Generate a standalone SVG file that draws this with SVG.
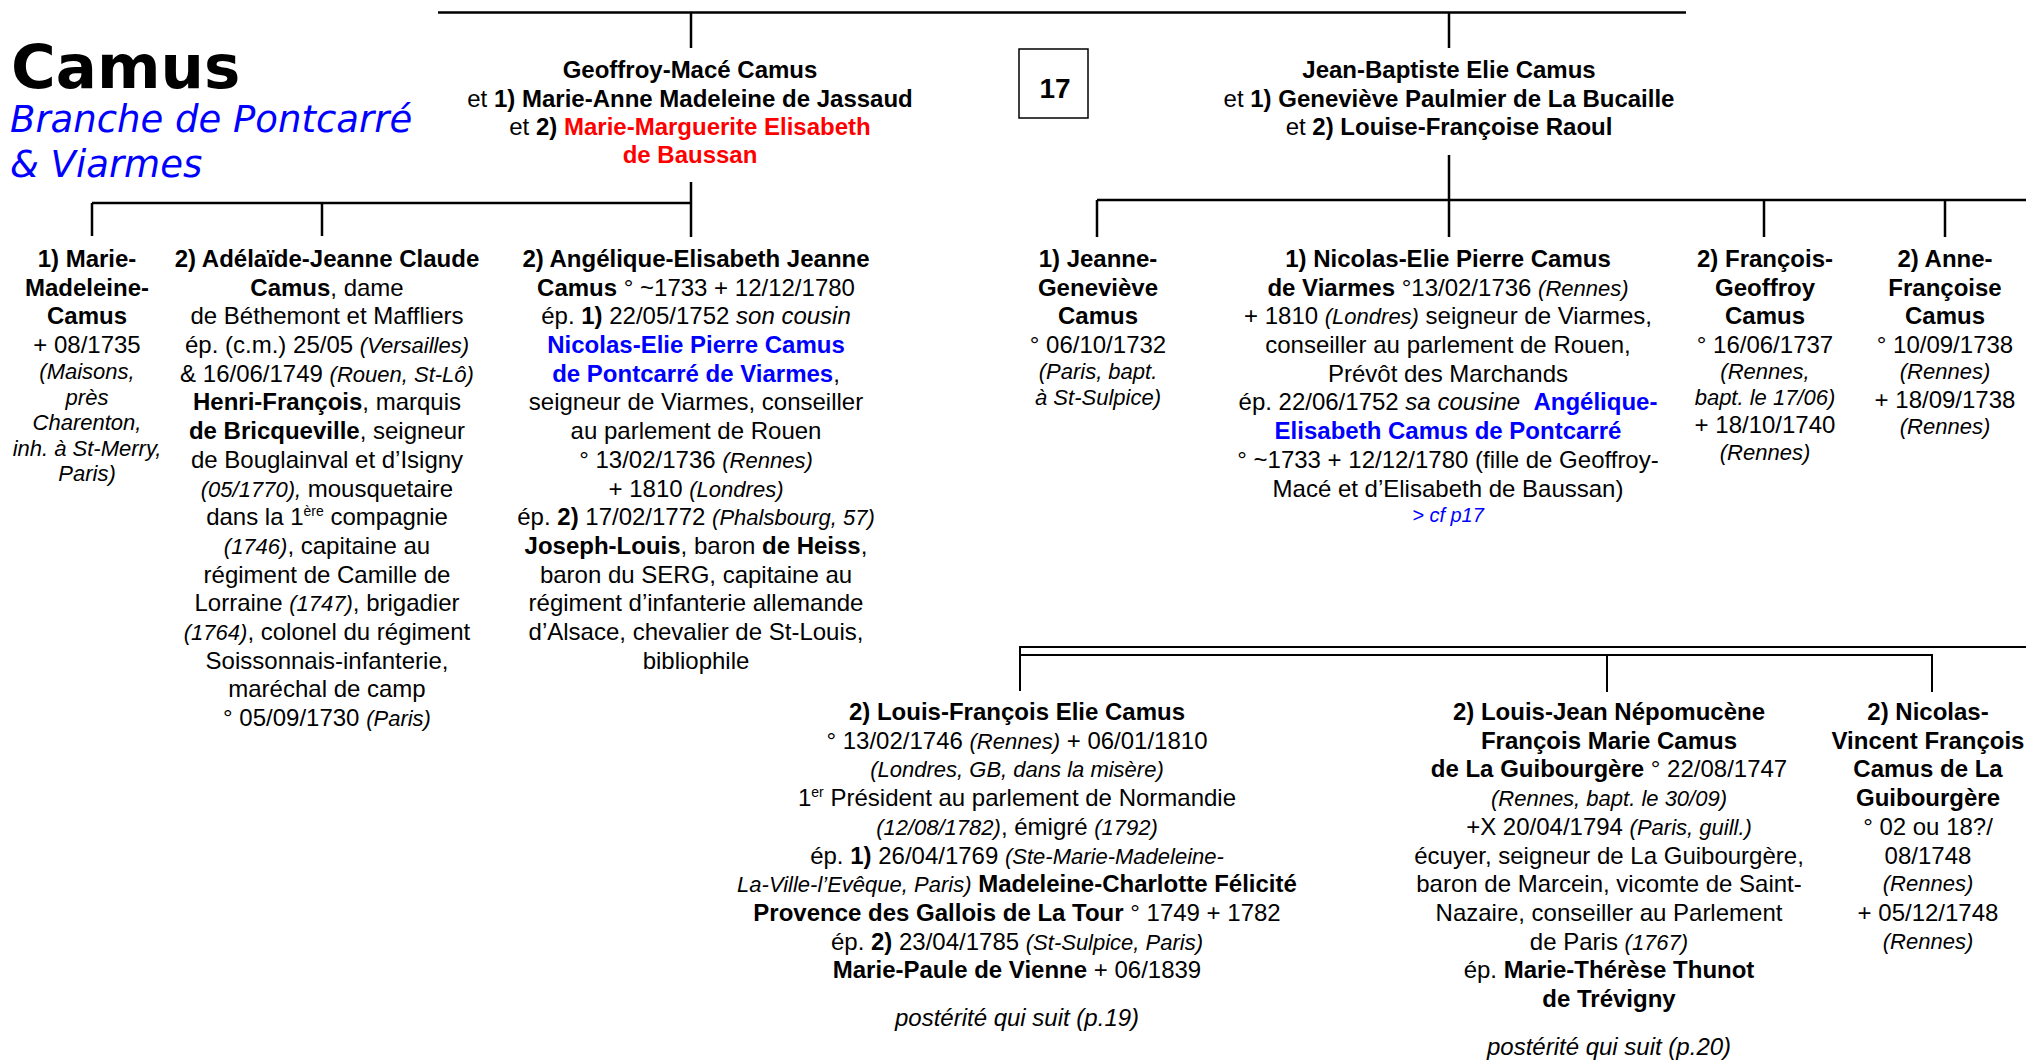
<svg xmlns="http://www.w3.org/2000/svg" width="2026" height="1060" viewBox="0 0 2026 1060">
<style>
text { font-family: "Liberation Sans", Arial, sans-serif; font-size: 24px; fill: #000; text-anchor: middle; }
.b { font-weight: bold; }
.i { font-style: italic; font-size: 22px; }
.it { font-style: italic; }
.bl { fill: #0000FF; }
.rd { fill: #FF0000; }
.sup { font-size: 14px; }
.cf { font-size: 20px; }
.num { font-size: 28px; font-weight: bold; }
.ln { stroke: #000; stroke-width: 2.5; fill: none; }
.ln2 { stroke: #000; stroke-width: 2; fill: none; }
.ttl { font-family: "DejaVu Sans", Verdana, sans-serif; text-anchor: start; font-size: 61px; font-weight: bold; }
.sub { font-family: "DejaVu Sans", Verdana, sans-serif; text-anchor: start; font-size: 37px; font-style: italic; fill: #0000FF; }
</style>
<rect width="2026" height="1060" fill="#fff"/>

<g id="title">
<text class="ttl" x="11" y="88">Camus</text>
<text class="sub" x="10" y="132">Branche de Pontcarré</text>
<text class="sub" x="10" y="177">&amp; Viarmes</text>
</g>

<g id="connectors">
<path class="ln" d="M438,12.5 H1686 M691,12.5 V48 M1449,12.5 V48"/>
<path class="ln" d="M691,182 V237 M92,203 H691 M92,203 V236 M322,203 V236"/>
<path class="ln" d="M1449,155 V237 M1097,200 H2026 M1097,200 V237 M1764,200 V237 M1945,200 V237"/>
<path class="ln2" d="M1020,691 V647 H2026 M1020,655 H1932 V692 M1607,655 V692"/>
</g>

<g id="page-box">
<rect x="1019" y="49" width="69" height="69" fill="none" stroke="#000" stroke-width="1.5"/>
<text x="1055" y="98" class="num">17</text>
</g>

<g id="n-geoffroy">
<text x="690" y="78"><tspan class="b">Geoffroy-Macé Camus</tspan></text>
<text x="690" y="107">et <tspan class="b">1) Marie-Anne Madeleine de Jassaud</tspan></text>
<text x="690" y="135">et <tspan class="b">2) </tspan><tspan class="b rd">Marie-Marguerite Elisabeth</tspan></text>
<text x="690" y="163"><tspan class="b rd">de Baussan</tspan></text>
</g>

<g id="n-jeanbaptiste">
<text x="1449" y="78"><tspan class="b">Jean-Baptiste Elie Camus</tspan></text>
<text x="1449" y="107">et <tspan class="b">1) Geneviève Paulmier de La Bucaille</tspan></text>
<text x="1449" y="135">et <tspan class="b">2) Louise-Françoise Raoul</tspan></text>
</g>

<g id="n-marie-madeleine">
<text x="87" y="267" class="b">1) Marie-</text>
<text x="87" y="296" class="b">Madeleine-</text>
<text x="87" y="324" class="b">Camus</text>
<text x="87" y="353">+ 08/1735</text>
<text x="87" y="379" class="i">(Maisons,</text>
<text x="87" y="404.5" class="i">près</text>
<text x="87" y="430" class="i">Charenton,</text>
<text x="87" y="455.5" class="i">inh. à St-Merry,</text>
<text x="87" y="481" class="i">Paris)</text>
</g>

<g id="n-adelaide">
<text x="327" y="267" class="b">2) Adélaïde-Jeanne Claude</text>
<text x="327" y="296"><tspan class="b">Camus</tspan>, dame</text>
<text x="327" y="324">de Béthemont et Maffliers</text>
<text x="327" y="353">ép. (c.m.) 25/05 <tspan class="i">(Versailles)</tspan></text>
<text x="327" y="382">&amp; 16/06/1749 <tspan class="i">(Rouen, St-Lô)</tspan></text>
<text x="327" y="410"><tspan class="b">Henri-François</tspan>, marquis</text>
<text x="327" y="439"><tspan class="b">de Bricqueville</tspan>, seigneur</text>
<text x="327" y="468">de Bouglainval et d’Isigny</text>
<text x="327" y="497"><tspan class="i">(05/1770),</tspan> mousquetaire</text>
<text x="327" y="525">dans la 1<tspan class="sup" dy="-9">ère</tspan><tspan dy="9"> compagnie</tspan></text>
<text x="327" y="554"><tspan class="i">(1746)</tspan>, capitaine au</text>
<text x="327" y="583">régiment de Camille de</text>
<text x="327" y="611">Lorraine <tspan class="i">(1747)</tspan>, brigadier</text>
<text x="327" y="640"><tspan class="i">(1764)</tspan>, colonel du régiment</text>
<text x="327" y="669">Soissonnais-infanterie,</text>
<text x="327" y="697">maréchal de camp</text>
<text x="327" y="726">° 05/09/1730 <tspan class="i">(Paris)</tspan></text>
</g>

<g id="n-angelique">
<text x="696" y="267" class="b">2) Angélique-Elisabeth Jeanne</text>
<text x="696" y="296"><tspan class="b">Camus</tspan> ° ~1733 + 12/12/1780</text>
<text x="696" y="324">ép. <tspan class="b">1)</tspan> 22/05/1752 <tspan class="it">son cousin</tspan></text>
<text x="696" y="353" class="b bl">Nicolas-Elie Pierre Camus</text>
<text x="696" y="382"><tspan class="b bl">de Pontcarré de Viarmes</tspan>,</text>
<text x="696" y="410">seigneur de Viarmes, conseiller</text>
<text x="696" y="439">au parlement de Rouen</text>
<text x="696" y="468">° 13/02/1736 <tspan class="i">(Rennes)</tspan></text>
<text x="696" y="497">+ 1810 <tspan class="i">(Londres)</tspan></text>
<text x="696" y="525">ép. <tspan class="b">2)</tspan> 17/02/1772 <tspan class="i">(Phalsbourg, 57)</tspan></text>
<text x="696" y="554"><tspan class="b">Joseph-Louis</tspan>, baron <tspan class="b">de Heiss</tspan>,</text>
<text x="696" y="583">baron du SERG, capitaine au</text>
<text x="696" y="611">régiment d’infanterie allemande</text>
<text x="696" y="640">d’Alsace, chevalier de St-Louis,</text>
<text x="696" y="669">bibliophile</text>
</g>

<g id="n-jeanne-genevieve">
<text x="1098" y="267" class="b">1) Jeanne-</text>
<text x="1098" y="296" class="b">Geneviève</text>
<text x="1098" y="324" class="b">Camus</text>
<text x="1098" y="353">° 06/10/1732</text>
<text x="1098" y="379" class="i">(Paris, bapt.</text>
<text x="1098" y="404.5" class="i">à St-Sulpice)</text>
</g>

<g id="n-nicolas-elie">
<text x="1448" y="267" class="b">1) Nicolas-Elie Pierre Camus</text>
<text x="1448" y="296"><tspan class="b">de Viarmes</tspan> °13/02/1736 <tspan class="i">(Rennes)</tspan></text>
<text x="1448" y="324">+ 1810 <tspan class="i">(Londres)</tspan> seigneur de Viarmes,</text>
<text x="1448" y="353">conseiller au parlement de Rouen,</text>
<text x="1448" y="382">Prévôt des Marchands</text>
<text x="1448" y="410">ép. 22/06/1752 <tspan class="it">sa cousine</tspan>&#160; <tspan class="b bl">Angélique-</tspan></text>
<text x="1448" y="439" class="b bl">Elisabeth Camus de Pontcarré</text>
<text x="1448" y="468">° ~1733 + 12/12/1780 (fille de Geoffroy-</text>
<text x="1448" y="497">Macé et d’Elisabeth de Baussan)</text>
<text x="1448" y="522" class="i bl cf">&gt; cf p17</text>
</g>

<g id="n-francois-geoffroy">
<text x="1765" y="267" class="b">2) François-</text>
<text x="1765" y="296" class="b">Geoffroy</text>
<text x="1765" y="324" class="b">Camus</text>
<text x="1765" y="353">° 16/06/1737</text>
<text x="1765" y="378.5" class="i">(Rennes,</text>
<text x="1765" y="405" class="i">bapt. le 17/06)</text>
<text x="1765" y="433">+ 18/10/1740</text>
<text x="1765" y="459.5" class="i">(Rennes)</text>
</g>

<g id="n-anne-francoise">
<text x="1945" y="267" class="b">2) Anne-</text>
<text x="1945" y="296" class="b">Françoise</text>
<text x="1945" y="324" class="b">Camus</text>
<text x="1945" y="353">° 10/09/1738</text>
<text x="1945" y="379" class="i">(Rennes)</text>
<text x="1945" y="407.5">+ 18/09/1738</text>
<text x="1945" y="433.5" class="i">(Rennes)</text>
</g>

<g id="n-louis-francois">
<text x="1017" y="720" class="b">2) Louis-François Elie Camus</text>
<text x="1017" y="749">° 13/02/1746 <tspan class="i">(Rennes)</tspan> + 06/01/1810</text>
<text x="1017" y="777" class="i">(Londres, GB, dans la misère)</text>
<text x="1017" y="806">1<tspan class="sup" dy="-9">er</tspan><tspan dy="9"> Président au parlement de Normandie</tspan></text>
<text x="1017" y="835"><tspan class="i">(12/08/1782)</tspan>, émigré <tspan class="i">(1792)</tspan></text>
<text x="1017" y="864">ép. <tspan class="b">1)</tspan> 26/04/1769 <tspan class="i">(Ste-Marie-Madeleine-</tspan></text>
<text x="1017" y="892"><tspan class="i">La-Ville-l’Evêque, Paris)</tspan> <tspan class="b">Madeleine-Charlotte Félicité</tspan></text>
<text x="1017" y="921"><tspan class="b">Provence des Gallois de La Tour</tspan> ° 1749 + 1782</text>
<text x="1017" y="950">ép. <tspan class="b">2)</tspan> 23/04/1785 <tspan class="i">(St-Sulpice, Paris)</tspan></text>
<text x="1017" y="978"><tspan class="b">Marie-Paule de Vienne</tspan> + 06/1839</text>
<text x="1017" y="1026" class="it">postérité qui suit (p.19)</text>
</g>

<g id="n-louis-jean">
<text x="1609" y="720" class="b">2) Louis-Jean Népomucène</text>
<text x="1609" y="749" class="b">François Marie Camus</text>
<text x="1609" y="777"><tspan class="b">de La Guibourgère</tspan> ° 22/08/1747</text>
<text x="1609" y="806" class="i">(Rennes, bapt. le 30/09)</text>
<text x="1609" y="835">+X 20/04/1794 <tspan class="i">(Paris, guill.)</tspan></text>
<text x="1609" y="864">écuyer, seigneur de La Guibourgère,</text>
<text x="1609" y="892">baron de Marcein, vicomte de Saint-</text>
<text x="1609" y="921">Nazaire, conseiller au Parlement</text>
<text x="1609" y="950">de Paris <tspan class="i">(1767)</tspan></text>
<text x="1609" y="978">ép. <tspan class="b">Marie-Thérèse Thunot</tspan></text>
<text x="1609" y="1007" class="b">de Trévigny</text>
<text x="1609" y="1055" class="it">postérité qui suit (p.20)</text>
</g>

<g id="n-nicolas-vincent">
<text x="1928" y="720" class="b">2) Nicolas-</text>
<text x="1928" y="749" class="b">Vincent François</text>
<text x="1928" y="777" class="b">Camus de La</text>
<text x="1928" y="806" class="b">Guibourgère</text>
<text x="1928" y="835">° 02 ou 18?/</text>
<text x="1928" y="864">08/1748</text>
<text x="1928" y="891" class="i">(Rennes)</text>
<text x="1928" y="921">+ 05/12/1748</text>
<text x="1928" y="949" class="i">(Rennes)</text>
</g>
</svg>
